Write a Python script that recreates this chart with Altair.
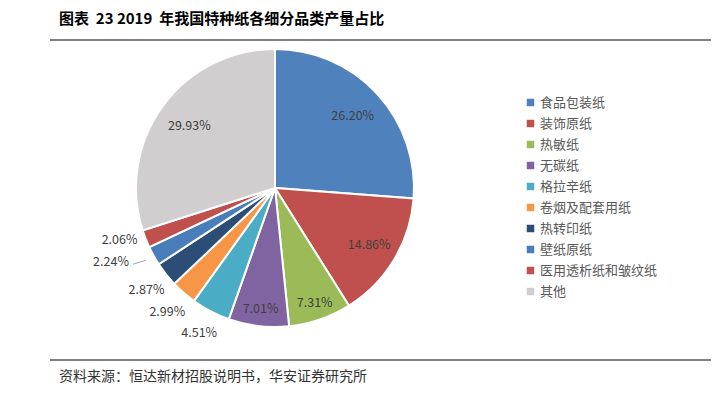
import altair as alt
import pandas as pd

categories = ["食品包装纸", "装饰原纸", "热敏纸", "无碳纸", "格拉辛纸",
              "卷烟及配套用纸", "热转印纸", "壁纸原纸", "医用透析纸和皱纹纸", "其他"]
values = [26.20, 14.86, 7.31, 7.01, 4.51, 2.99, 2.87, 2.24, 2.06, 29.93]
colors = ["#4F81BD", "#C0504D", "#9BBB59", "#8064A2", "#4BACC6",
          "#F79646", "#2C4D75", "#4A7EBB", "#C0504D", "#D0CECE"]

title_text = "图表\u00a0\u00a023\u00a02019\u00a0\u00a0年我国特种纸各细分品类产量占比"
source_text = "资料来源：恒达新材招股说明书，华安证券研究所"

df = pd.DataFrame({
    "cat": categories,
    "value": values,
    "idx": list(range(len(categories))),
})

FONT = "Noto Sans CJK SC"
W, H = 703, 377
CX, CY, R = 267, 180, 139

pie = alt.Chart(df).mark_arc(stroke="white", strokeWidth=2, outerRadius=R).encode(
    theta=alt.Theta("value:Q", stack=True),
    order=alt.Order("idx:Q"),
    x=alt.value(CX), y=alt.value(CY),
    color=alt.Color(
        "cat:N",
        scale=alt.Scale(domain=categories, range=colors),
        sort=categories,
        legend=alt.Legend(
            title=None, orient="none", legendX=516, legendY=88,
            symbolType="square", symbolSize=56, symbolStrokeWidth=0,
            labelFont=FONT, labelFontSize=13, labelColor="#595959",
            rowPadding=7, padding=0, labelOffset=3,
        ),
    ),
)

lab_base = alt.Chart(df).transform_joinaggregate(
    total="sum(value)"
).transform_window(
    cum="sum(value)", sort=[alt.SortField("idx")], frame=[None, 0]
).transform_calculate(
    mid="(datum.cum - datum.value / 2) / datum.total * 2 * PI",
    lab="format(datum.value, '.2f') + '%'",
    lr="datum.idx == 7 ? 180 : (datum.value > 5 ? (datum.value > 20 ? 106 : (datum.value > 10 ? 110 : 122)) : 164)",
).transform_calculate(
    lmid="datum.mid + (datum.idx == 7 ? 0.085 : (datum.idx == 8 ? 0.05 : 0))",
)

labels = lab_base.mark_text(font=FONT, fontSize=12.5, color="#404040").encode(
    x=alt.value(CX), y=alt.value(CY),
    theta=alt.Theta("lmid:Q", scale=None),
    radius=alt.Radius("lr:Q", scale=None),
    text="lab:N",
)

leader = lab_base.transform_filter("datum.idx == 7").transform_calculate(
    x1=f"{CX} + sin(datum.lmid) * datum.lr + 22",
    y1=f"{CY} - cos(datum.lmid) * datum.lr + 2",
    x2=f"{CX} + sin(datum.mid) * 148",
    y2=f"{CY} - cos(datum.mid) * 148",
).mark_rule(color="#A6A6A6", strokeWidth=1).encode(
    x=alt.X("x1:Q", scale=None), y=alt.Y("y1:Q", scale=None),
    x2="x2:Q", y2="y2:Q",
)

deco = pd.DataFrame({"t": [0]})
title = alt.Chart(deco).mark_text(
    font=FONT, fontSize=15, fontWeight="bold", align="left", baseline="middle", color="#000000"
).encode(x=alt.value(51), y=alt.value(11), text=alt.value(title_text))
source = alt.Chart(deco).mark_text(
    font=FONT, fontSize=14, align="left", baseline="middle", color="#333333"
).encode(x=alt.value(51), y=alt.value(369), text=alt.value(source_text))
line_top = alt.Chart(deco).mark_rule(color="#000000", strokeWidth=1).encode(
    x=alt.value(42), x2=alt.value(707), y=alt.value(32))
line_bot = alt.Chart(deco).mark_rule(color="#000000", strokeWidth=1).encode(
    x=alt.value(42), x2=alt.value(707), y=alt.value(352))

chart = alt.layer(pie, labels, leader, title, source, line_top, line_bot).properties(
    width=W, height=H, autosize=alt.AutoSizeParams(type="none"), padding=0
).configure_view(stroke=None)

chart.save("out.html", embed_options={"renderer": "svg", "actions": False})
